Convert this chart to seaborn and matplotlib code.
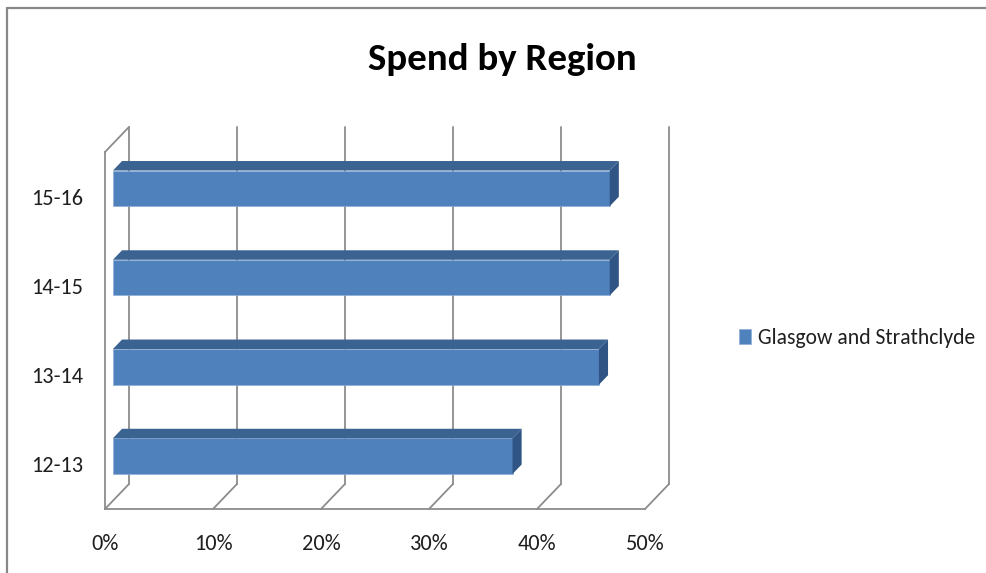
import matplotlib
matplotlib.use("Agg")
import matplotlib.pyplot as plt
import seaborn as sns
import pandas as pd
from matplotlib.patches import Polygon
from matplotlib.lines import Line2D

# Data
periods = ["15-16", "14-15", "13-14", "12-13"]
spend_share = [46, 46, 45, 37]
series_name = "Glasgow and Strathclyde"
x_ticks = [0, 10, 20, 30, 40, 50]

# Styling
FRONT = "#4F81BD"
TOP = "#3B6392"
SIDE = "#305584"
GRID = "#8C8C8C"
TEXT = "#1F1F1F"

sns.set_style("white")
plt.rcParams["font.family"] = ["Carlito", "DejaVu Sans"]

df = pd.DataFrame({"period": periods, "share": spend_share})

W, H = 987, 573
fig = plt.figure(figsize=(W / 100, H / 100), dpi=100)
ax = fig.add_axes([105 / W, 1 - 509 / H, 540 / W, 357 / H])

sns.barplot(data=df, x="share", y="period", order=periods, orient="h",
            width=0.40, color=FRONT, saturation=1, label=series_name, ax=ax,
            zorder=3, edgecolor="#8FADD6", linewidth=0.5)

ax.set_xlim(0, 50)
ax.set_ylim(len(periods) - 0.5, -0.5)

# 3D depth in data units
DX = 24 / (540 / 50)
DY = 25 / (357 / len(periods))
d0, d1 = 0.33, 0.71

ymin, ymax = -0.5, len(periods) - 0.5

# back wall gridlines + floor diagonals
for xv in x_ticks:
    ax.add_line(Line2D([xv + DX, xv + DX], [ymin - DY, ymax - DY], color=GRID,
                       lw=1.3, clip_on=False, zorder=1))
    ax.add_line(Line2D([xv, xv + DX], [ymax, ymax - DY], color=GRID,
                       lw=1.3, clip_on=False, zorder=1))
# left wall top edge
ax.add_line(Line2D([0, DX], [ymin, ymin - DY], color=GRID, lw=1.3,
                   clip_on=False, zorder=1))

# shift bar fronts back into depth and add top / side faces
for p in ax.patches:
    x0, w = p.get_x(), p.get_width()
    yt, h = p.get_y(), p.get_height()
    p.set_x(x0 + d0 * DX)
    p.set_y(yt - d0 * DY)
    x1 = x0 + w
    yb = yt + h
    top = [(x0 + d0 * DX, yt - d0 * DY), (x1 + d0 * DX, yt - d0 * DY),
           (x1 + d1 * DX, yt - d1 * DY), (x0 + d1 * DX, yt - d1 * DY)]
    side = [(x1 + d0 * DX, yt - d0 * DY), (x1 + d1 * DX, yt - d1 * DY),
            (x1 + d1 * DX, yb - d1 * DY), (x1 + d0 * DX, yb - d0 * DY)]
    ax.add_patch(Polygon(top, closed=True, facecolor=TOP, edgecolor="none",
                         zorder=3, clip_on=False))
    ax.add_patch(Polygon(side, closed=True, facecolor=SIDE, edgecolor="none",
                         zorder=3, clip_on=False))

# spines: front left and bottom only
for s in ["top", "right"]:
    ax.spines[s].set_visible(False)
for s in ["left", "bottom"]:
    ax.spines[s].set_color(GRID)
    ax.spines[s].set_linewidth(1.3)
    ax.spines[s].set_zorder(2)

ax.set_xticks(x_ticks)
ax.set_xticklabels([f"{v}%" for v in x_ticks])
ax.tick_params(axis="x", direction="out", length=4, width=1.2, color=GRID,
               pad=14, labelsize=16, labelcolor=TEXT)
ax.set_yticks(range(len(periods)))
ax.set_yticklabels(periods)
ax.tick_params(axis="y", which="major", length=0, pad=16, labelsize=16,
               labelcolor=TEXT)
ax.set_yticks([i - 0.5 for i in range(len(periods) + 1)], minor=True)
ax.tick_params(axis="y", which="minor", direction="out", length=4.5,
               width=1.2, color=GRID)
ax.set_xlabel("")
ax.set_ylabel("")

fig.text(502 / W, 1 - 60 / H, "Spend by Region", ha="center", va="center",
         fontsize=28, fontweight="bold", color="black")

leg = ax.get_legend()
if leg is not None:
    leg.remove()
handles, labels = ax.get_legend_handles_labels()
fig.legend(handles[:1], labels[:1], loc="center left",
           bbox_to_anchor=(739 / W, 1 - 338 / H), frameon=False,
           borderpad=0, borderaxespad=0,
           fontsize=15.6, handlelength=0.55, handleheight=0.7,
           handletextpad=0.35, labelcolor=TEXT)

# chart border (left and top)
fig.add_artist(Line2D([7 / W, 7 / W], [0, 1 - 8 / H], color="#888888",
                      lw=1.6, transform=fig.transFigure))
fig.add_artist(Line2D([7 / W, 1], [1 - 8 / H, 1 - 8 / H], color="#888888",
                      lw=1.6, transform=fig.transFigure))

fig.savefig("out.png", dpi=100, facecolor="white")
